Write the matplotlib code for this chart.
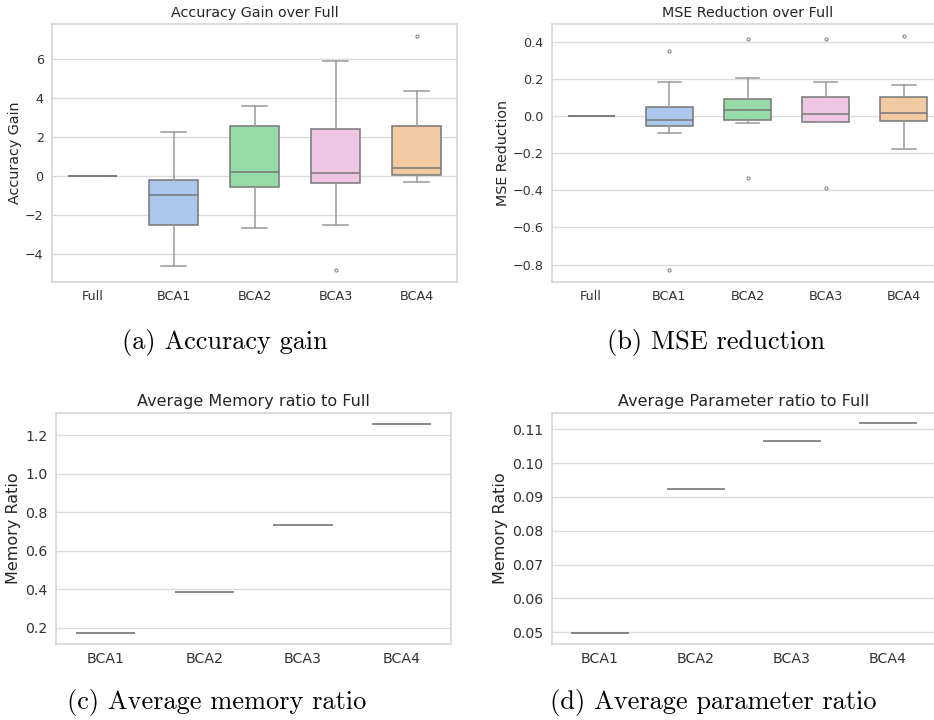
import matplotlib
matplotlib.use("Agg")
import matplotlib.pyplot as plt

# box statistics: (whislo, q1, med, q3, whishi)
cats_ab = ["Full", "BCA1", "BCA2", "BCA3", "BCA4"]
acc_stats = [
    (0.0, 0.0, 0.0, 0.0, 0.0),
    (-4.60, -2.51, -0.97, -0.19, 2.29),
    (-2.65, -0.56, 0.21, 2.56, 3.62),
    (-2.48, -0.36, 0.15, 2.41, 5.91),
    (-0.31, 0.05, 0.41, 2.56, 4.38),
]
acc_fliers = [[], [], [], [-4.80], [7.18]]

mse_stats = [
    (0.0, 0.0, 0.0, 0.0, 0.0),
    (-0.092, -0.052, -0.022, 0.047, 0.186),
    (-0.038, -0.022, 0.034, 0.090, 0.205),
    (-0.031, -0.031, 0.014, 0.103, 0.184),
    (-0.177, -0.027, 0.016, 0.101, 0.168),
]
mse_fliers = [[], [0.35, -0.831], [0.416, -0.332], [0.418, -0.386], [0.432]]

cats_cd = ["BCA1", "BCA2", "BCA3", "BCA4"]
mem_ratio = [0.174, 0.386, 0.732, 1.259]
param_ratio = [0.0497, 0.0923, 0.1065, 0.1118]

box_colors = ["#a9c8ec", "#a9c8ec", "#97dba8", "#efc6e4", "#f2caa2"]

W, H = 934, 720
fig = plt.figure(figsize=(W / 100, H / 100), dpi=100)


def px_axes(left, top, right, bottom):
    return fig.add_axes([left / W, 1 - bottom / H, (right - left) / W, (bottom - top) / H])


def style(ax, tick_size):
    ax.set_facecolor("white")
    for s in ax.spines.values():
        s.set_color("#d5d5d5")
        s.set_linewidth(1.2)
    ax.yaxis.grid(True, color="#dcdcdc", linewidth=1.0)
    ax.xaxis.grid(False)
    ax.set_axisbelow(True)
    ax.tick_params(length=0, labelsize=tick_size, colors="#333333", pad=6)


def draw_boxes(ax, stats, fliers):
    bx = []
    for (lo, q1, med, q3, hi), fl in zip(stats, fliers):
        bx.append(dict(whislo=lo, q1=q1, med=med, q3=q3, whishi=hi, fliers=fl))
    parts = ax.bxp(bx, positions=range(len(bx)), widths=0.6, patch_artist=True,
                   showfliers=True,
                   boxprops=dict(edgecolor="#777777", linewidth=1.1),
                   medianprops=dict(color="#777777", linewidth=1.1),
                   whiskerprops=dict(color="#999999", linewidth=1.1),
                   capprops=dict(color="#999999", linewidth=1.1),
                   flierprops=dict(marker="o", markersize=2.2, markerfacecolor="none",
                                   markeredgecolor="#888888", markeredgewidth=0.8))
    for patch, c in zip(parts["boxes"], box_colors):
        patch.set_facecolor(c)
    for cap in parts["caps"]:
        x = cap.get_xdata()
        mid = (x[0] + x[1]) / 2
        cap.set_xdata([mid - 0.15, mid + 0.15])


# (a) accuracy gain
ax = px_axes(52, 24, 457, 282)
style(ax, 9.2)
draw_boxes(ax, acc_stats, acc_fliers)
ax.set_xticks(range(len(cats_ab)), cats_ab)
ax.set_xlim(-0.5, 4.5)
ax.set_ylim(-5.42, 7.8)
ax.set_yticks([-4, -2, 0, 2, 4, 6])
ax.set_title("Accuracy Gain over Full", fontsize=10.3, color="#262626", pad=5)
ax.set_ylabel("Accuracy Gain", fontsize=10.3, color="#262626", labelpad=2)

# (b) MSE reduction
ax = px_axes(552, 24, 943, 282)
style(ax, 9.2)
draw_boxes(ax, mse_stats, mse_fliers)
ax.set_xticks(range(len(cats_ab)), cats_ab)
ax.set_xlim(-0.5, 4.5)
ax.set_ylim(-0.894, 0.497)
ax.set_yticks([-0.8, -0.6, -0.4, -0.2, 0.0, 0.2, 0.4])
ax.set_title("MSE Reduction over Full", fontsize=10.3, color="#262626", pad=5)
ax.set_ylabel("MSE Reduction", fontsize=10.3, color="#262626", labelpad=2)


def draw_flat(ax, vals):
    for i, v in enumerate(vals):
        ax.hlines(v, i - 0.3, i + 0.3, color="#6a6a6a", linewidth=1.1)


# (c) memory ratio
ax = px_axes(56, 413, 451, 644)
style(ax, 10.2)
draw_flat(ax, mem_ratio)
ax.set_xticks(range(len(cats_cd)), cats_cd)
ax.set_xlim(-0.5, 3.5)
ax.set_ylim(0.117, 1.314)
ax.set_yticks([0.2, 0.4, 0.6, 0.8, 1.0, 1.2])
ax.set_title("Average Memory ratio to Full", fontsize=11.5, color="#262626", pad=5)
ax.set_ylabel("Memory Ratio", fontsize=11.5, color="#262626", labelpad=3)

# (d) parameter ratio
ax = px_axes(552, 413, 936, 644)
style(ax, 10.2)
draw_flat(ax, param_ratio)
ax.set_xticks(range(len(cats_cd)), cats_cd)
ax.set_xlim(-0.5, 3.5)
ax.set_ylim(0.0465, 0.1148)
ax.set_yticks([0.05, 0.06, 0.07, 0.08, 0.09, 0.10, 0.11])
ax.set_yticklabels(["0.05", "0.06", "0.07", "0.08", "0.09", "0.10", "0.11"])
ax.set_title("Average Parameter ratio to Full", fontsize=11.5, color="#262626", pad=5)
ax.set_ylabel("Memory Ratio", fontsize=11.5, color="#262626", labelpad=3)

# sub-captions
caps = [("(a) Accuracy gain", 225, 342), ("(b) MSE reduction", 716, 342),
        ("(c) Average memory ratio", 217, 703), ("(d) Average parameter ratio", 713, 703)]
for txt, x, y in caps:
    fig.text(x / W, 1 - y / H, txt, ha="center", va="center", fontsize=19,
             family="cmr10", color="black")

fig.savefig("out.png", dpi=100)
